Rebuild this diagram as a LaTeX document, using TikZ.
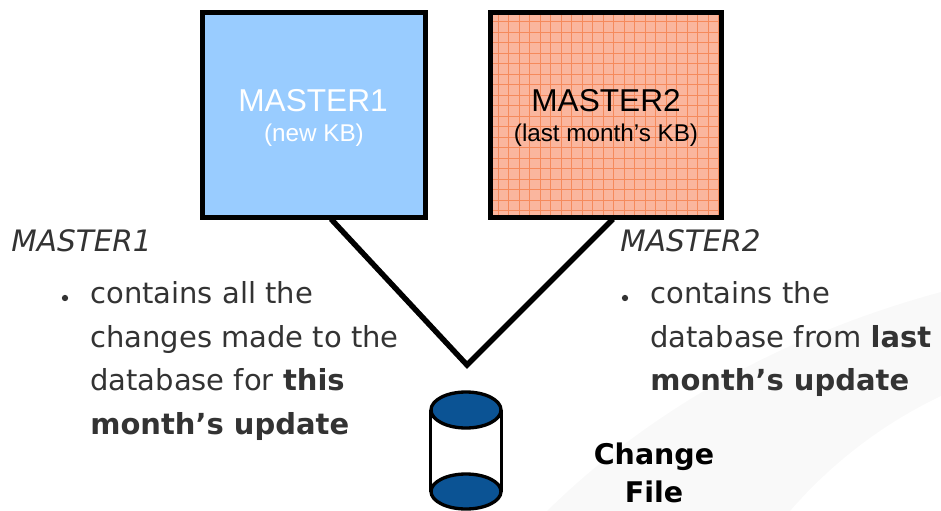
\documentclass[tikz,border=0pt]{standalone}
\usepackage{fontspec}
\setmainfont{DejaVu Sans}
\newfontfamily\boxfont{Liberation Sans}
\usepackage{xcolor}
\definecolor{skyfill}{HTML}{99CCFF}
\definecolor{salmonfill}{HTML}{FAB69E}
\definecolor{gridline}{HTML}{F58A5C}
\definecolor{drumblue}{HTML}{0B5394}
\definecolor{bodytext}{HTML}{333333}
\definecolor{swoosh}{HTML}{F9F9F9}
\usetikzlibrary{positioning}
\tikzset{
    masterbox/.style = {draw=black, line width=2.9pt, outer sep=0pt, minimum height=116.5pt, align=center, inner sep=0pt},
    bigname/.style = {font=\boxfont\fontsize{18}{20}\selectfont},
    smallname/.style = {font=\boxfont\fontsize{13.8}{16}\selectfont},
    heading/.style = {font=\itshape\fontsize{16.8}{20}\selectfont, text=bodytext, anchor=base west, inner sep=0pt},
    bullettext/.style = {font=\fontsize{16.5}{24.9}\selectfont, text=bodytext, align=left, anchor=north west, inner sep=0pt},
    bulletdot/.style = {circle, fill=bodytext, inner sep=0pt, minimum size=3.6pt},
    vee/.style = {line width=3.1pt},
    drum/.style = {draw=black, line width=1.9pt}
}

\begin{document}
\begin{tikzpicture}[x=0.02cm,y=-0.02cm]
      \useasboundingbox (0,0) rectangle (941,511);
      % background swoosh
      \fill[swoosh] (941,292) .. controls (800,330) and (660,400) .. (547,511) -- (790,511) .. controls (830,465) and (880,425) .. (941,396) -- cycle;

      \node[masterbox, minimum width=126.7pt, fill=skyfill] (master1) at (314,115) {};
      \node[masterbox, minimum width=131pt, fill=salmonfill] (master2) at (606,115) {};
      % grid on the second box
      \begin{scope}
        \clip (master2.south west) rectangle (master2.north east);
        \foreach \gx in {0,...,21} \draw[gridline, line width=0.4pt] (498.3+\gx*10.5,10) -- (498.3+\gx*10.5,220);
        \foreach \gy in {0,...,19} \draw[gridline, line width=0.4pt] (488,21.7+\gy*10.5) -- (724,21.7+\gy*10.5);
      \end{scope}
      \draw[line width=2.9pt] (master2.south west) rectangle (master2.north east);

      \node[bigname, text=white] (name1) at (313,101) {MASTER1};
      \node[bigname] (name2) at (606,101) {MASTER2};
      \node[smallname, text=white] (kb1) at (314,135) {(new KB)};
      \node[smallname] (kb2) at (606,135) {(last month’s KB)};

      \coordinate (out1) at (331,219);
      \coordinate (out2) at (613,219);
      \coordinate (apex) at (467,365);
      \draw[vee] (out1) -- (apex) -- (out2);

      \node[heading] (head1) at (11,251) {MASTER1};
      \node[heading] (head2) at (620,251) {MASTER2};
      \node[bulletdot] (dot1) at (65,298) {};
      \node[bulletdot] (dot2) at (625,298) {};
      \node[bullettext] (list1) at (90,281) {contains all the\\changes made to the\\database for \textbf{this}\\\textbf{month’s update}};
      \node[bullettext] (list2) at (650,281) {contains the\\database from \textbf{last}\\\textbf{month’s update}};

      % change file drum
      \draw[drum, line width=1.5pt] (430.5,410) -- (430.5,492) (501.5,492) -- (501.5,410);
      \draw[drum, fill=drumblue] (466,410) ellipse (35 and 18);
      \draw[drum, fill=drumblue] (466,491.5) ellipse (35 and 17.5);
      \node[font=\bfseries\fontsize{16.2}{21.5}\selectfont, align=center, inner sep=0pt] (label) at (654,473) {Change\\File};
    \end{tikzpicture}
\end{document}
